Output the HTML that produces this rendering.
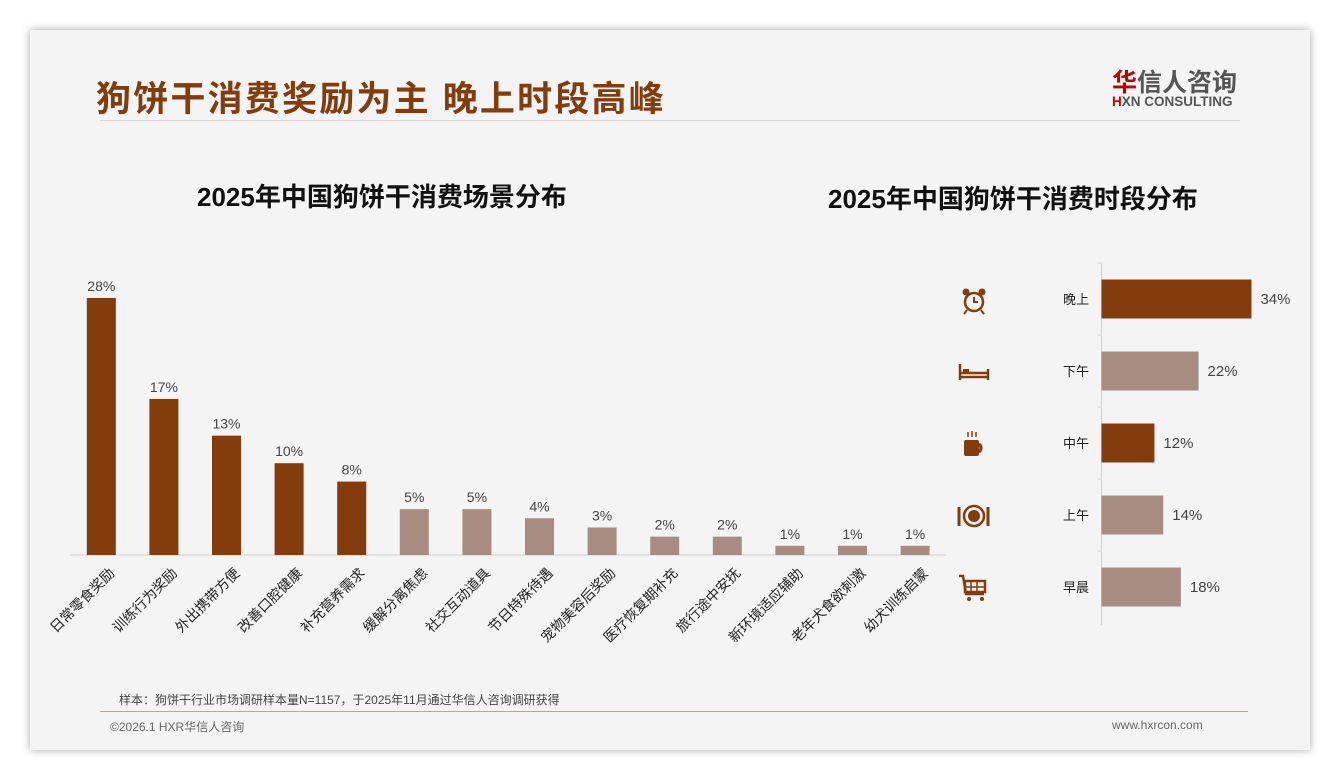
<!DOCTYPE html>
<html><head><meta charset="utf-8">
<style>
body{margin:0;width:1340px;height:780px;background:#fff;font-family:"Liberation Sans","Noto Sans CJK SC",sans-serif;overflow:hidden}
#slide{position:absolute;left:30px;top:30px;width:1280px;height:720px;background:#f4f4f4;box-shadow:0 0 8px rgba(0,0,0,.35)}
.t{position:absolute;white-space:nowrap}
</style></head><body>
<div id="slide"></div>
<div class="t" style="left:96px;top:71px;font-size:35px;font-weight:bold;color:#843c0c;letter-spacing:2.2px">狗饼干消费奖励为主 晚上时段高峰</div>
<div style="position:absolute;left:100px;top:120px;width:1140px;height:1px;background:#d8d8d8"></div>
<div class="t" style="left:1112px;top:63px;font-size:25px;font-weight:bold;color:#555"><span style="color:#c00000">华</span>信人咨询</div>
<div class="t" style="left:1112px;top:94px;font-size:13.5px;font-weight:bold;color:#555"><span style="color:#c00000">H</span>XN CONSULTING</div>
<div class="t" style="left:197px;top:177px;font-size:26px;font-weight:bold;color:#111">2025年中国狗饼干消费场景分布</div>
<div class="t" style="left:828px;top:179px;font-size:26px;font-weight:bold;color:#111">2025年中国狗饼干消费时段分布</div>
<div class="t" style="left:119px;top:691px;font-size:12px;color:#444">样本：狗饼干行业市场调研样本量N=1157，于2025年11月通过华信人咨询调研获得</div>
<div style="position:absolute;left:100px;top:711px;width:1148px;height:1px;background:#c9a08a"></div>
<div class="t" style="left:110px;top:718px;font-size:12px;color:#666">©2026.1 HXR华信人咨询</div>
<div class="t" style="left:1112px;top:718px;font-size:12px;color:#666">www.hxrcon.com</div>
<svg id="chart" width="1340" height="780" style="position:absolute;left:0;top:0"></svg>
<script>
const sceneCats=["日常零食奖励","训练行为奖励","外出携带方便","改善口腔健康","补充营养需求","缓解分离焦虑","社交互动道具","节日特殊待遇","宠物美容后奖励","医疗恢复期补充","旅行途中安抚","新环境适应辅助","老年犬食欲刺激","幼犬训练启蒙"];
const sceneVals=[28,17,13,10,8,5,5,4,3,2,2,1,1,1];
const timeCats=["晚上","下午","中午","上午","早晨"];
const timeVals=[34,22,12,14,18];
const timeDark=[true,false,true,false,false];
const NS="http://www.w3.org/2000/svg";
const svg=document.getElementById('chart');
function mk(t,a,p){const e=document.createElementNS(NS,t);for(const k in a)e.setAttribute(k,a[k]);(p||svg).appendChild(e);return e;}
const DARK="#843c0c",LIGHT="#a88c82";
const x0=70,step=62.6,base=555,ky=9.18;
const sx=i=>x0+step*(i+0.5), sy=v=>base-v*ky;
let ax=mk('line',{x1:70,x2:946,y1:base,y2:base,stroke:'#d0d0d0'});

sceneVals.forEach((v,i)=>{
 const r=mk('rect',{x:sx(i)-14.5,y:sy(v),width:29,height:v*ky,fill:i<5?DARK:LIGHT});
 
 
 const l=mk('text',{x:sx(i),y:sy(v)-7,'text-anchor':'middle','font-size':14,fill:'#444'});
 l.textContent=v+'%';
 
 
 const lx=sx(i)+14,ly=574;
 const c=mk('text',{x:lx,y:ly,'text-anchor':'end','font-size':14,fill:'#222',transform:`rotate(-45 ${lx} ${ly})`});
 c.textContent=sceneCats[i];
 
 
});
const ry0=263,rstep=72,rx=1101.5,kx=4.41;
const cy=i=>ry0+rstep*(i+0.5);
let ay=mk('line',{x1:rx,x2:rx,y1:263,y2:625,stroke:'#d0d0d0'});

timeVals.forEach((v,i)=>{
 mk('line',{x1:rx-4,x2:rx,y1:ry0+rstep*i,y2:ry0+rstep*i,stroke:'#d0d0d0'});
 const r=mk('rect',{x:rx,y:cy(i)-19.5,width:v*kx,height:39,fill:timeDark[i]?DARK:LIGHT});
 
 
 const l=mk('text',{x:rx+v*kx+9,y:cy(i)+5,'font-size':15,fill:'#444'});
 l.textContent=v+'%';
 
 
 const c=mk('text',{x:1089,y:cy(i)+5,'text-anchor':'end','font-size':13,fill:'#222'});
 c.textContent=timeCats[i];
 
 
});
const ic=[
'<circle cx="0" cy="2" r="9" fill="none" stroke="#843c0c" stroke-width="2.5"/><path d="M0 -3V2H4" stroke="#843c0c" stroke-width="2" fill="none"/><circle cx="-8" cy="-8" r="3.5" fill="#843c0c"/><circle cx="8" cy="-8" r="3.5" fill="#843c0c"/><path d="M-7 10l-3 4M7 10l3 4" stroke="#843c0c" stroke-width="2"/>',
'<path d="M-14 -8V8M14 -3V8M-14 5H14M-14 1H14" stroke="#843c0c" stroke-width="2.5" fill="none"/><rect x="-11" y="-3" width="6" height="4" fill="#843c0c"/>',
'<rect x="-10" y="-4" width="15" height="16" rx="2" fill="#843c0c"/><path d="M5 0a5 5 0 0 1 0 8" stroke="#843c0c" stroke-width="3" fill="none"/><path d="M-6 -12v5M-2 -13v6M2 -12v5" stroke="#843c0c" stroke-width="1.5"/>',
'<circle cx="0" cy="0" r="10" fill="none" stroke="#843c0c" stroke-width="2.5"/><circle r="6" fill="#843c0c"/><path d="M-15 -9V10M14 -9V10" stroke="#843c0c" stroke-width="3"/>',
'<path d="M-15 -12h4l3 18h18" stroke="#843c0c" stroke-width="2.5" fill="none"/><rect x="-9" y="-7" width="20" height="11" fill="none" stroke="#843c0c" stroke-width="2.5"/><path d="M-3 -7v11M3 -7v11M-9 -1h20" stroke="#843c0c" stroke-width="1.5"/><circle cx="-5" cy="11" r="2" fill="#843c0c"/><circle cx="8" cy="11" r="2" fill="#843c0c"/>'];
ic.forEach((s,i)=>{const g=mk('g',{transform:`translate(974 ${cy(i)+1})`});g.innerHTML=s;
 
 });
</script>
</body></html>
